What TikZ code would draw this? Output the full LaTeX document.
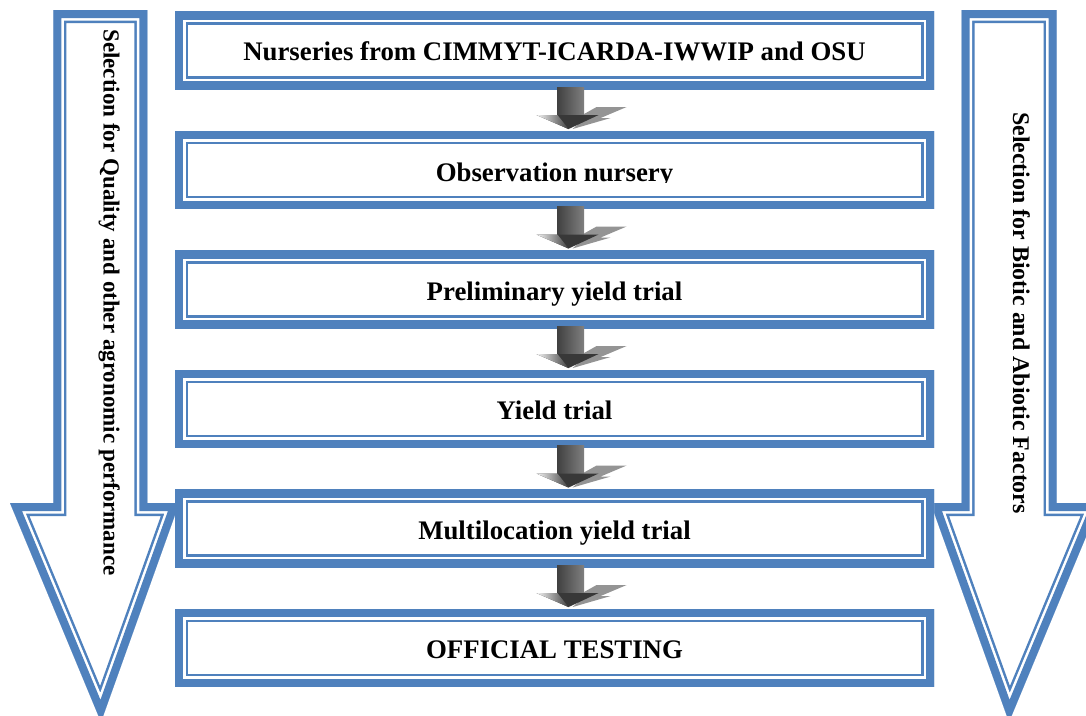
\documentclass[tikz,border=0pt]{standalone}
\usepackage{fontspec}
\setmainfont{Liberation Serif}
\usetikzlibrary{calc}
\definecolor{bord}{HTML}{4F81BD}
\tikzset{
  framebox/.style={rectangle, fill=white, draw=none, outer sep=0pt, inner sep=0pt,
    minimum width=759pt, minimum height=77.5pt,
    path picture={
      \draw[bord, line width=26pt] (path picture bounding box.south west) rectangle (path picture bounding box.north east);
      \draw[white, line width=21pt] (path picture bounding box.south west) rectangle (path picture bounding box.north east);
      \draw[bord, line width=16pt] (path picture bounding box.south west) rectangle (path picture bounding box.north east);
    }},
  boxtext/.style={font=\bfseries\fontsize{26.8}{30}\selectfont, anchor=base, inner sep=0pt, outer sep=0pt},
  sidetext/.style={font=\bfseries\fontsize{23}{27}\selectfont, rotate=-90, anchor=base, inner sep=0pt},
  sidetextb/.style={font=\bfseries\fontsize{23.9}{27}\selectfont, rotate=-90, anchor=base, inner sep=0pt},
  bandout/.style={bord, line width=26pt, line join=miter, miter limit=20},
  bandgap/.style={white, line width=21pt, line join=miter, miter limit=20},
  bandin/.style={bord, line width=16pt, line join=miter, miter limit=20},
  shadowfill/.style={fill=black!42},
  shaftshade/.style={left color=black!75, right color=black!50},
  headfill/.style={fill=black!78},
  headlight/.style={left color=black!4, right color=black!75},
}
\newcommand{\flowarrow}[1]{%
  \begin{scope}[shift={($(#1.south)+(16,0)$)}]
    \fill[shadowfill] (13.5,25) -- (26,18) -- (56,18) -- (30,29) -- (40,29) -- (2,40) -- (13.5,30) -- cycle;
    \shade[shaftshade] (-13.5,-2) rectangle (13.5,27);
    \fill[headfill] (-34,26) -- (28,26) -- (-2,40) -- cycle;
    \shade[headlight] (-34,26) -- (-13,26) -- (-2,40) -- cycle;
  \end{scope}}
\begin{document}
\begin{tikzpicture}[x=1pt, y=-1pt]
\useasboundingbox (0,0) rectangle (1086,715);
\fill[white] (0,0) rectangle (1086,715);

% left big arrow
\begin{scope}
  \def\leftpath{(53.3,10) -- (147.3,10) -- (147.3,503) -- (179.3,503) -- (101,722) -- (10,503) -- (53.3,503) -- cycle}
  \clip \leftpath;
  \draw[bandout] \leftpath;
  \draw[bandgap] \leftpath;
  \draw[bandin] \leftpath;
\end{scope}
% right big arrow
\begin{scope}
  \def\rightpath{(961.7,10) -- (1056.7,10) -- (1056.7,503) -- (1100,503) -- (1009,722) -- (930.6,503) -- (961.7,503) -- cycle}
  \clip \rightpath;
  \draw[bandout] \rightpath;
  \draw[bandgap] \rightpath;
  \draw[bandin] \rightpath;
\end{scope}

\node[sidetext] (lefttext) at (103.5,302.5) {Selection for Quality and other agronomic performance};
\node[sidetextb] (righttext) at (1013,313) {Selection for Biotic and Abiotic Factors};

% boxes
\node[framebox] (b1) at (554.5,50.3) {};
\node[framebox] (b2) at (554.5,169.8) {};
\node[framebox] (b3) at (554.5,289.3) {};
\node[framebox] (b4) at (554.5,408.8) {};
\node[framebox] (b5) at (554.5,528.3) {};
\node[framebox] (b6) at (554.5,647.8) {};

\node[boxtext] (t1) at ($(b1.center)+(0,10.3)$) {Nurseries from CIMMYT-ICARDA-IWWIP and OSU};
\begin{scope}
  \clip (b2.north west) rectangle ($(b2.east)+(0,12.8)$);
  \node[boxtext] (t2) at ($(b2.center)+(0,11.3)$) {Observation nursery};
\end{scope}
\node[boxtext] (t3) at ($(b3.center)+(0,10.8)$) {Preliminary yield trial};
\node[boxtext] (t4) at ($(b4.center)+(0,10.8)$) {Yield trial};
\node[boxtext] (t5) at ($(b5.center)+(0,10.8)$) {Multilocation yield trial};
\node[boxtext] (t6) at ($(b6.center)+(0,10.8)$) {OFFICIAL TESTING};

% connectors
\flowarrow{b1}
\flowarrow{b2}
\flowarrow{b3}
\flowarrow{b4}
\flowarrow{b5}
\end{tikzpicture}
\end{document}
